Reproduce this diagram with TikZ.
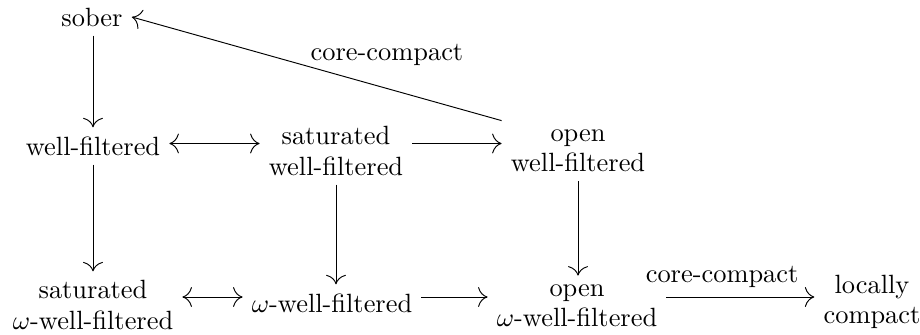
\documentclass[tikz,border=0pt]{standalone}
\usetikzlibrary{arrows.meta}
\begin{document}
\begin{tikzpicture}[x=0.3788pt,y=-0.3788pt, >={Computer Modern Rightarrow[scale=1.5]},
  every path/.style={line width=0.36pt},
  box/.style={align=center, inner sep=3.33pt, font=\fontsize{10}{11.4}\selectfont},
  lab/.style={inner sep=3.33pt}]
\useasboundingbox (0,0) rectangle (920,335);
\node[box] (sober) at (92,17) {sober};
\node[box] (wf) at (93,146) {well-filtered};
\node[box] (swf) at (336,151) {saturated\\well-filtered};
\node[box] (owf) at (578,151) {open\\well-filtered};
\node[box] (sowf) at (93,305) {saturated\\$\omega$-well-filtered};
\node[box] (owfw) at (332,303) {$\omega$-well-filtered};
\node[box] (oowf) at (577,306) {open\\$\omega$-well-filtered};
\node[box] (lc) at (872,302) {locally\\compact};
\coordinate (r1) at (0,143.5);
\coordinate (r2) at (0,297);
\draw[->] (sober.south -| wf.north) -- (wf.north);
\draw[<->] (wf.east |- r1) -- (swf.west |- r1);
\draw[->] (swf.east |- r1) -- (owf.west |- r1);
\draw[->] (owf.north west) -- node[lab, pos=0.31, anchor=south, yshift=5.2pt]{core-compact} (sober.east);
\draw[->] (wf.south) -- (sowf.north -| wf.south);
\draw[->] (swf.south) -- (owfw.north -| swf.south);
\draw[->] (owf.south) -- (oowf.north -| owf.south);
\draw[<->] (sowf.east |- r2) -- (owfw.west |- r2);
\draw[->] (owfw.east |- r2) -- (oowf.west |- r2);
\draw[->] (oowf.east |- r2) -- node[lab, pos=0.376, above]{core-compact} (lc.west |- r2);
\end{tikzpicture}
\end{document}
